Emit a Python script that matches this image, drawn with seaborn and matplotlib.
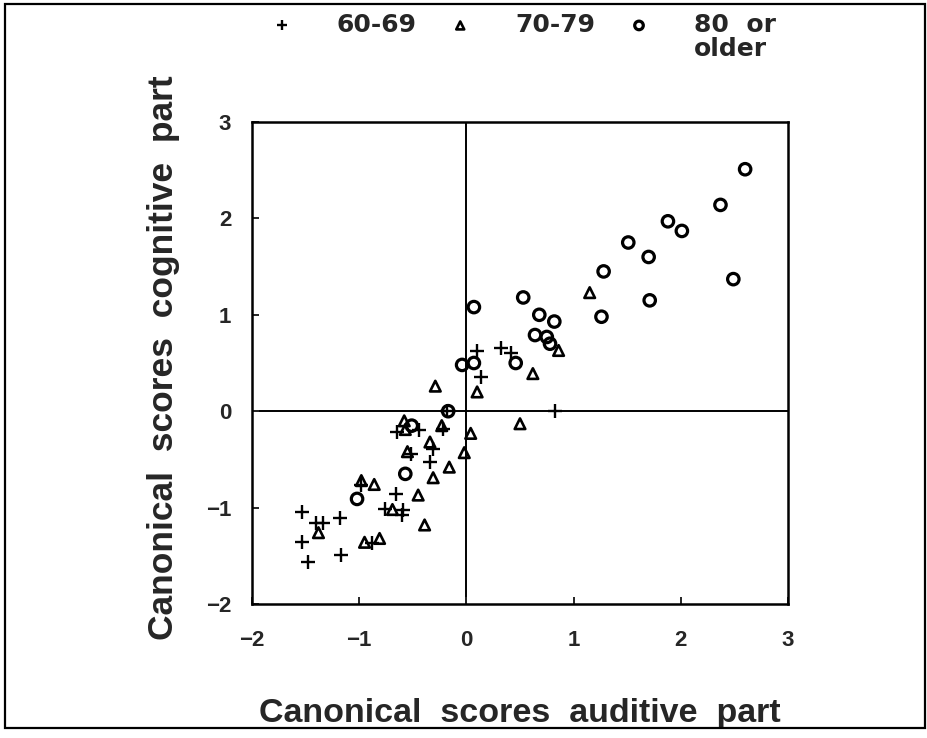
import numpy as np
import pandas as pd
import matplotlib
matplotlib.use("Agg")
import matplotlib.pyplot as plt
from matplotlib.patches import Rectangle
import seaborn as sns

# canonical scores, per age group
x_60 = [-0.18, -0.65, -0.44, -0.22, -0.31, -0.52, -0.34, -0.98, -0.66, -0.76,
        -0.59, -0.60, -1.53, -1.40, -1.34, -1.18, -1.53, -1.48, -1.17, -0.88,
        0.32, 0.10, 0.42, 0.14, 0.83]
y_60 = [0.00, -0.22, -0.19, -0.18, -0.39, -0.44, -0.53, -0.77, -0.86, -1.01,
        -1.03, -1.08, -1.05, -1.16, -1.16, -1.11, -1.36, -1.56, -1.49, -1.37,
        0.66, 0.62, 0.60, 0.35, 0.00]

x_70 = [-0.29, 0.10, -0.58, -0.57, -0.23, 0.04, -0.34, -0.55, -0.02, -0.16,
        -0.31, -0.98, -0.86, -0.45, -0.69, -0.39, -1.38, -0.95, -0.81, 1.15,
        0.86, 0.62, 0.50]
y_70 = [0.26, 0.20, -0.10, -0.19, -0.15, -0.23, -0.32, -0.42, -0.43, -0.58,
        -0.69, -0.72, -0.76, -0.87, -1.02, -1.18, -1.26, -1.36, -1.32, 1.23,
        0.63, 0.39, -0.13]

x_80 = [-0.17, -0.51, -0.57, -1.02, 0.53, 0.07, 0.68, 0.82, 1.26, 0.64,
        0.75, 0.78, 0.46, -0.04, 0.07, 2.60, 2.37, 1.88, 2.01, 1.51,
        1.70, 1.28, 2.49, 1.71]
y_80 = [0.00, -0.15, -0.65, -0.91, 1.18, 1.08, 1.00, 0.93, 0.98, 0.79,
        0.77, 0.70, 0.50, 0.48, 0.50, 2.51, 2.14, 1.97, 1.87, 1.75,
        1.60, 1.45, 1.37, 1.15]

groups = ["60-69", "70-79", "80  or"]
ticks = [-2, -1, 0, 1, 2, 3]

sns.set_style("ticks")
plt.rcParams["font.family"] = ["Liberation Sans", "DejaVu Sans"]
plt.rcParams["font.weight"] = "bold"

fig = plt.figure(figsize=(9.28, 7.38), dpi=100)
ax = fig.add_axes([252 / 928, 1 - 604 / 738, 536 / 928, 482 / 738])

df60 = pd.DataFrame({"x": x_60, "y": y_60})
df70 = pd.DataFrame({"x": x_70, "y": y_70})
df80 = pd.DataFrame({"x": x_80, "y": y_80})

sns.scatterplot(data=df60, x="x", y="y", marker="+", s=90, color="black",
                linewidth=1.7, label=groups[0], ax=ax)
sns.scatterplot(data=df70, x="x", y="y", marker="^", s=58, facecolor="none",
                edgecolor="black", linewidth=1.9, label=groups[1], ax=ax)
sns.scatterplot(data=df80, x="x", y="y", marker="o", s=68, facecolor="none",
                edgecolor="black", linewidth=2.3, label=groups[2], ax=ax)

ax.axhline(0, color="black", lw=1.4, zorder=0)
ax.axvline(0, color="black", lw=1.4, zorder=0)

ax.set_xlim(-2, 3)
ax.set_ylim(-2, 3)
ax.set_xticks(ticks)
ax.set_yticks(ticks)
ax.tick_params(direction="in", length=5, width=1.4, labelsize=16)
ax.tick_params(axis="x", pad=19)
ax.tick_params(axis="y", pad=15)
for lab in ax.get_xticklabels() + ax.get_yticklabels():
    lab.set_fontweight("bold")
for sp in ax.spines.values():
    sp.set_linewidth(1.8)
    sp.set_color("black")

ax.set_xlabel("Canonical  scores  auditive  part", fontsize=24.5,
              fontweight="bold", va="baseline")
ax.xaxis.set_label_coords(0.5, -(722 - 604) / 482)
ax.set_ylabel("Canonical  scores  cognitive  part", fontsize=25.5,
              fontweight="bold", va="center")
ax.yaxis.set_label_coords((164 - 252) / 536, (604 - 358) / 482)

leg = ax.legend(ncol=3, loc="upper left",
                bbox_to_anchor=(269 / 928, 1 - 13 / 738),
                bbox_transform=fig.transFigure, frameon=False,
                prop={"family": "DejaVu Sans", "weight": "bold", "size": 18},
                handlelength=1.0, handletextpad=1.7, columnspacing=1.25,
                markerscale=0.75, borderpad=0, borderaxespad=0)

# second line of the last legend label, set under "80 or"
fig.canvas.draw()
bb = leg.get_texts()[2].get_window_extent()
fig.text(bb.x0, bb.y0, "older", transform=None, va="top", ha="left",
         family="DejaVu Sans", weight="bold", fontsize=18)

fig.patches.append(Rectangle((5 / 928, 1 - 728 / 738), 920 / 928, 724 / 738,
                             transform=fig.transFigure, fill=False,
                             edgecolor="black", lw=1.6))

fig.savefig("out.png", dpi=100)
